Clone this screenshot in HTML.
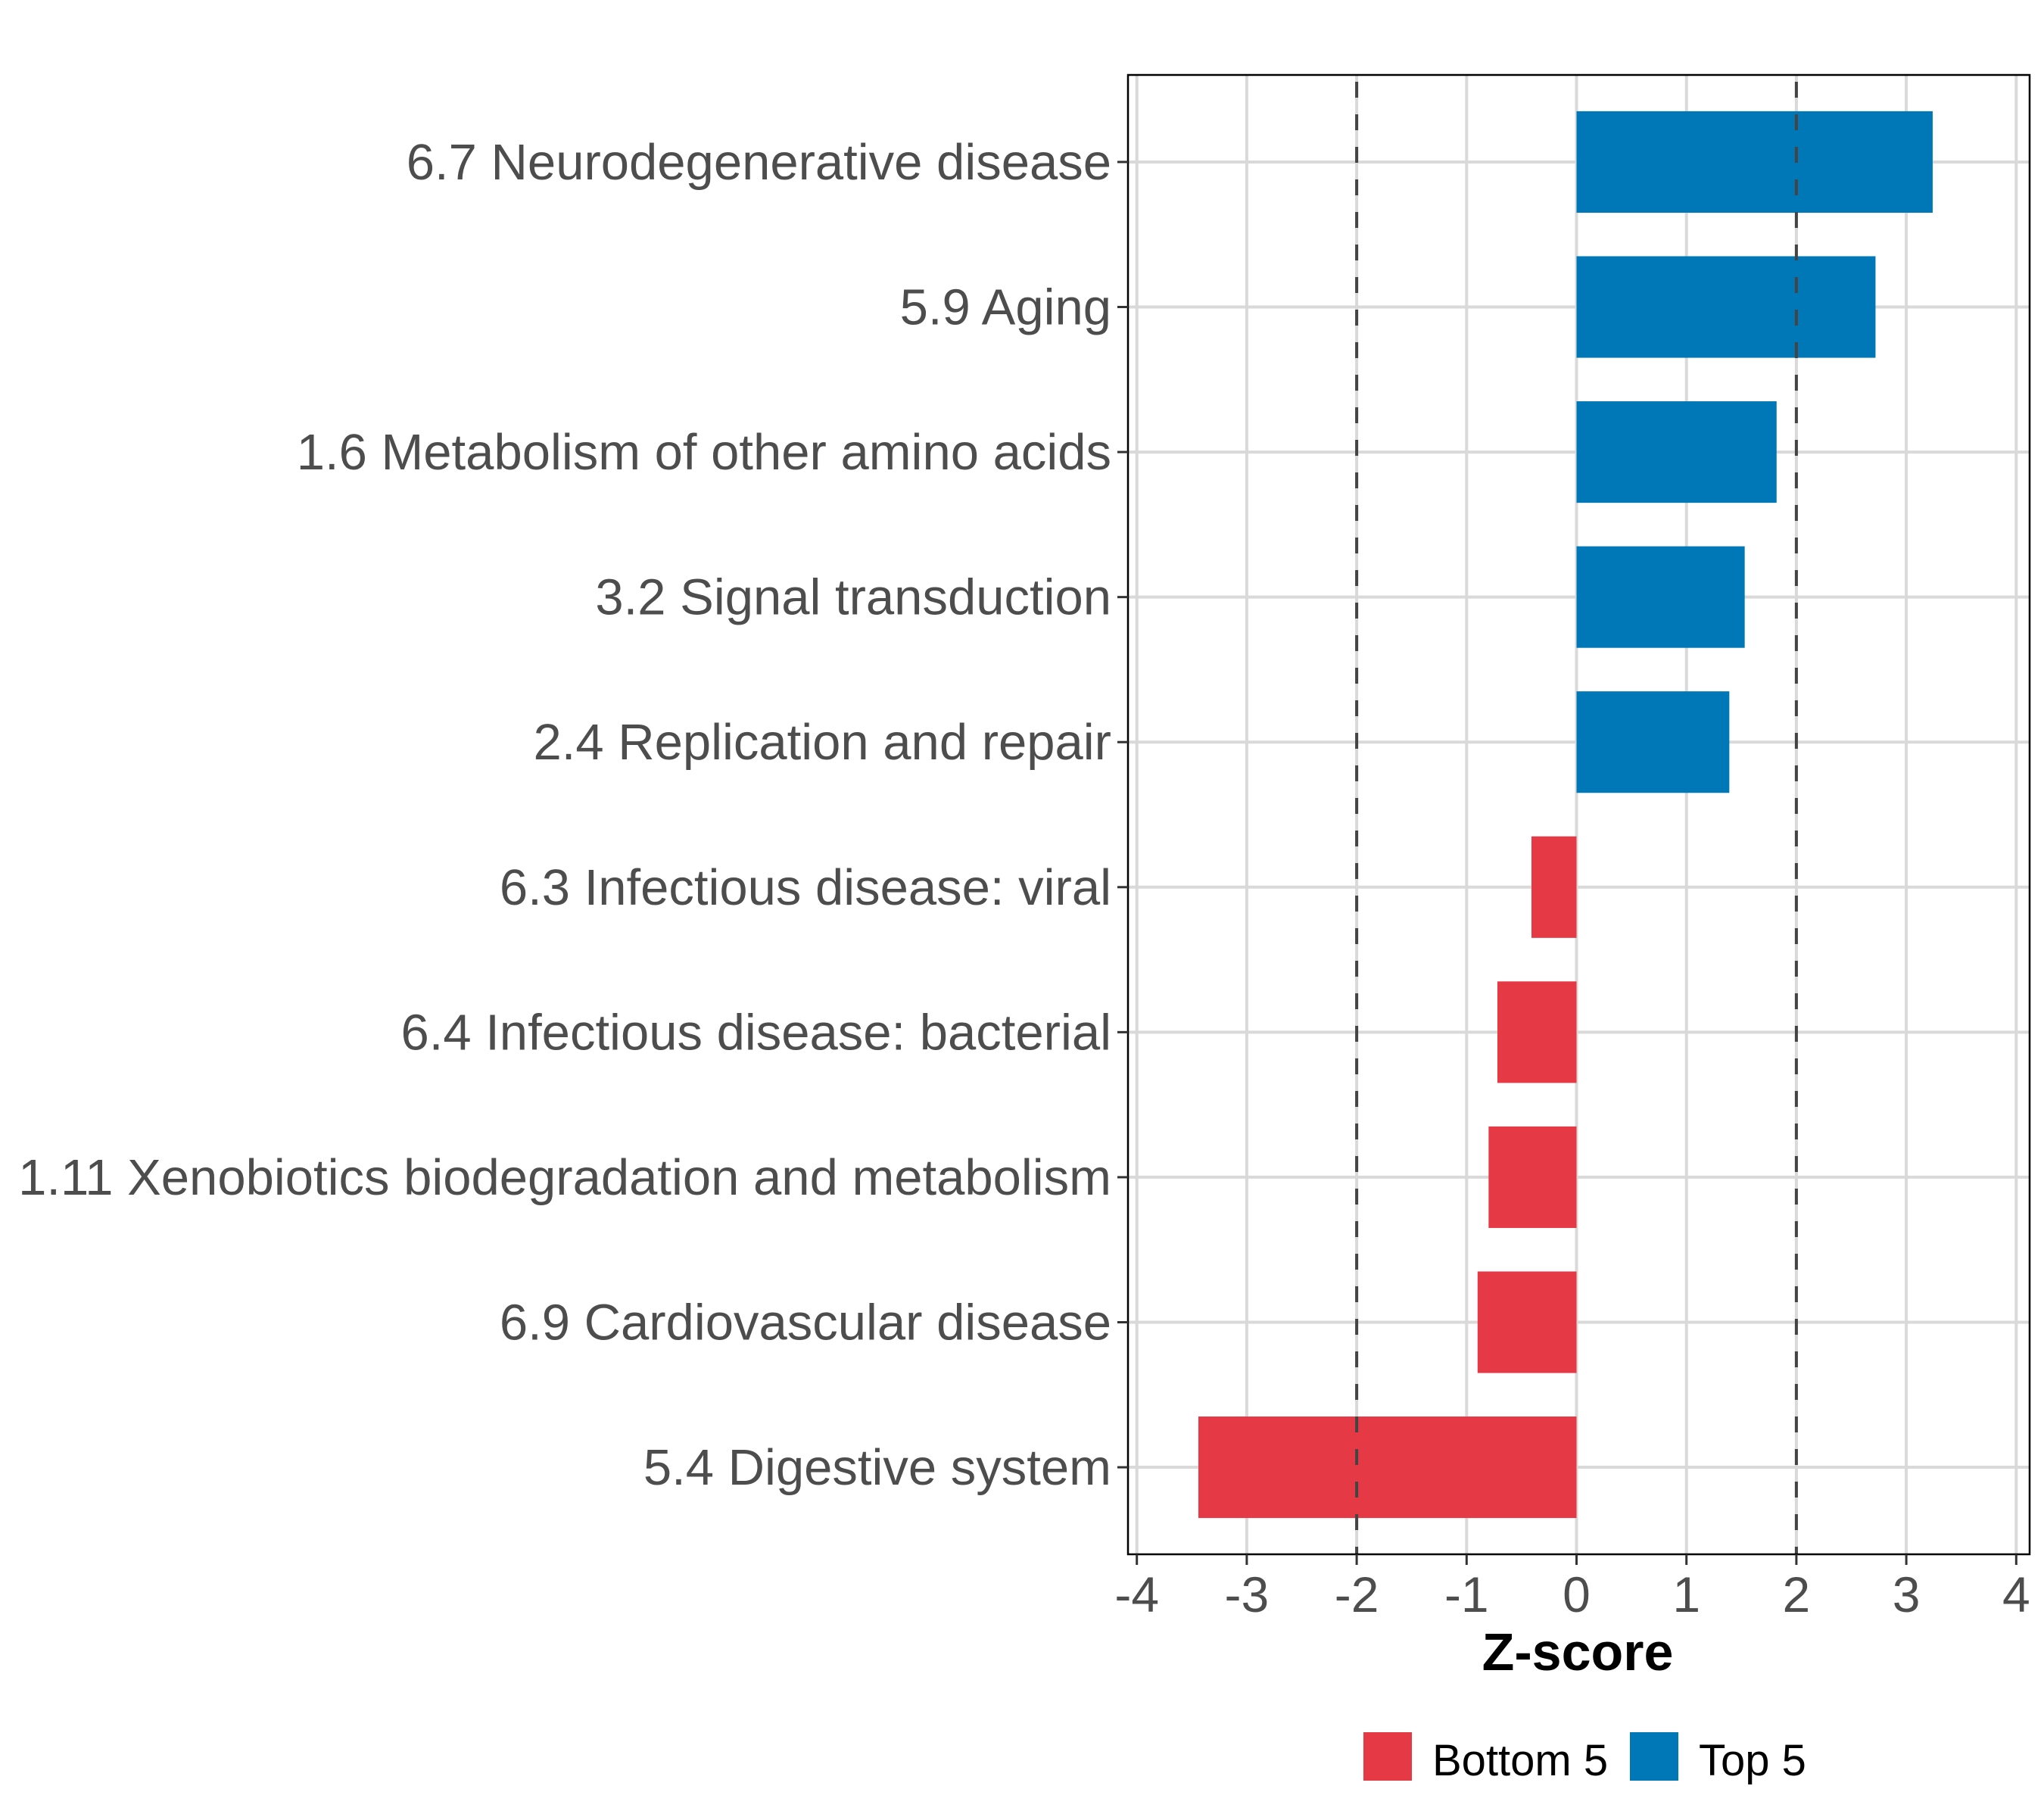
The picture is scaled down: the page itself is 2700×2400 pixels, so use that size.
<!DOCTYPE html>
<html><head><meta charset="utf-8"><style>
body{margin:0;background:#fff}
svg{display:block}
text{font-family:"Liberation Sans",sans-serif}
</style></head><body>
<svg id="chart" width="2700" height="2400" viewBox="0 0 2700 2400" xmlns="http://www.w3.org/2000/svg"></svg>
<script>
const categories = ["6.7 Neurodegenerative disease","5.9 Aging","1.6 Metabolism of other amino acids","3.2 Signal transduction","2.4 Replication and repair","6.3 Infectious disease: viral","6.4 Infectious disease: bacterial","1.11 Xenobiotics biodegradation and metabolism","6.9 Cardiovascular disease","5.4 Digestive system"];
const values = [3.24, 2.72, 1.82, 1.53, 1.39, -0.41, -0.72, -0.80, -0.90, -3.44];
const groups = ["Top 5","Top 5","Top 5","Top 5","Top 5","Bottom 5","Bottom 5","Bottom 5","Bottom 5","Bottom 5"];
const xTicks = [-4,-3,-2,-1,0,1,2,3,4];
const refLines = [-2, 2];
const legendItems = ["Bottom 5","Top 5"];

const svg = document.getElementById('chart');
const NS = 'http://www.w3.org/2000/svg';
const P = {l:1490, r:2681, t:99, b:2053};
const colors = {"Top 5":"#0077b6","Bottom 5":"#e63946"};
const x = v => 2082.5 + v*145.2;
const step = (P.b-P.t)/(categories.length-1+1.2);
const y = i => P.t + (0.6+i)*step;
function el(tag, attrs, parent){const e=document.createElementNS(NS,tag);for(const k in attrs)e.setAttribute(k,attrs[k]);(parent||svg).appendChild(e);return e;}

const grid = el('g',{});


xTicks.forEach(t=>{const l=el('line',{x1:x(t),x2:x(t),y1:P.t,y2:P.b,stroke:'#d9d9d9','stroke-width':4},grid);

});
categories.forEach((c,i)=>{const l=el('line',{x1:P.l,x2:P.r,y1:y(i),y2:y(i),stroke:'#d9d9d9','stroke-width':4},grid);

});

values.forEach((v,i)=>{
  const h = step*0.7;
  const r = el('rect',{x:Math.min(x(0),x(v)),y:y(i)-h/2,width:Math.abs(x(v)-x(0)),height:h,fill:colors[groups[i]]});
  
  
});

refLines.forEach(v=>{const l=el('line',{x1:x(v),x2:x(v),y1:P.t,y2:P.b,stroke:'#444','stroke-width':4,'stroke-dasharray':'21 22','stroke-dashoffset':-9});

});

const border = el('rect',{x:P.l,y:P.t,width:P.r-P.l,height:P.b-P.t,fill:'none',stroke:'#000','stroke-width':2.5});



categories.forEach((c,i)=>{
  const tk = el('line',{x1:P.l-14,x2:P.l,y1:y(i),y2:y(i),stroke:'#333','stroke-width':3});
  
  
  const t = el('text',{x:1468,y:y(i)+23,'text-anchor':'end','font-size':67,fill:'#4d4d4d'});
  t.textContent = c;
  
  
});
xTicks.forEach(v=>{
  const tk = el('line',{x1:x(v),x2:x(v),y1:P.b,y2:P.b+14,stroke:'#333','stroke-width':3});
  
  
  const t = el('text',{x:x(v),y:2129,'text-anchor':'middle','font-size':66,fill:'#4d4d4d'});
  t.textContent = v;
  
  
});
const xt = el('text',{x:2084,y:2206,'text-anchor':'middle','font-size':70,'font-weight':'bold',fill:'#000'});
xt.textContent='Z-score';



const lx = [1807, 2159];
legendItems.forEach((g,i)=>{
  const s = el('rect',{x:lx[i]-6,y:2288,width:64,height:64,fill:colors[g]});
  
  
  const t = el('text',{x:lx[i]+85,y:2345,'font-size':58,fill:'#000'});
  t.textContent = g;
  
  
});
</script>
</body></html>
